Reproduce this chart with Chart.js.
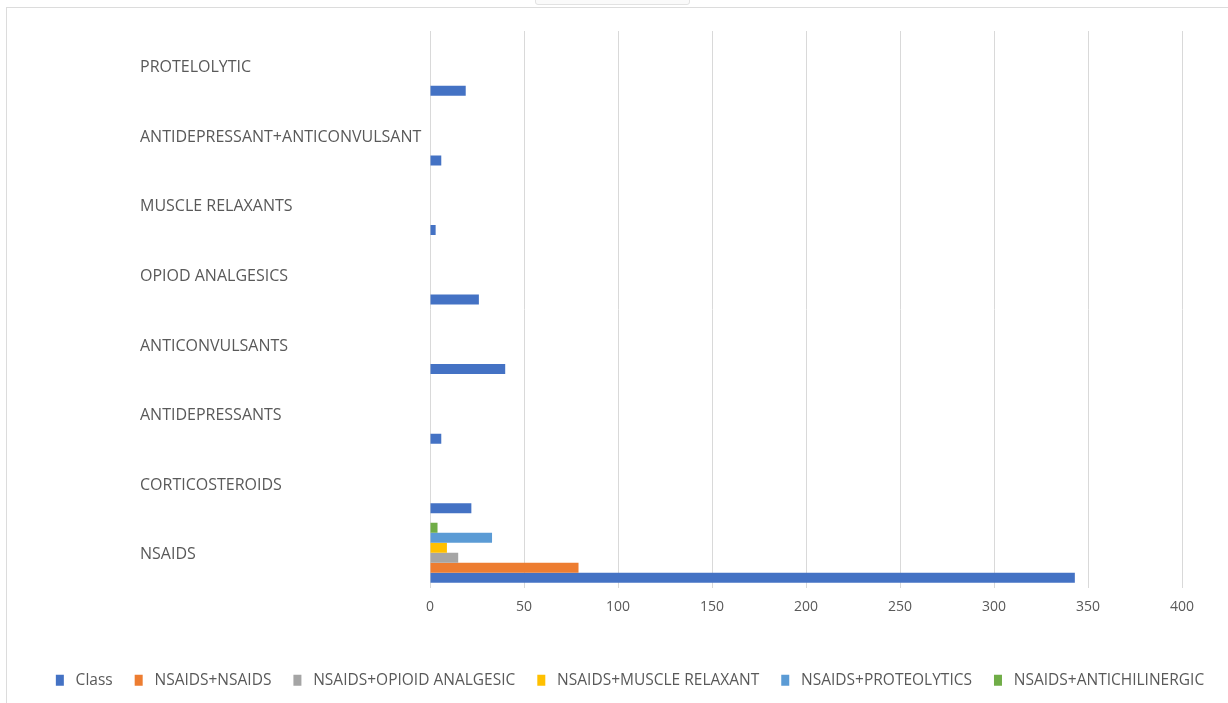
<!DOCTYPE html>
<html>
<head>
<meta charset="utf-8">
<script src="https://cdn.jsdelivr.net/npm/chart.js@4/dist/chart.umd.min.js"></script>
<style>
  html, body { margin: 0; padding: 0; background: #ffffff; }
  #frame { position: absolute; left: 6px; top: 7px; width: 1222px; height: 696px;
           border-left: 1px solid #dcdcdc; border-top: 1px solid #dcdcdc; box-sizing: border-box; }
  #wrap { position: relative; width: 1221px; height: 695px; }
  #tab { position: absolute; left: 535px; top: -3px; width: 153px; height: 6px;
         border: 1px solid #e2e2e2; border-radius: 0 0 3px 3px; background: #fafafa; }
</style>
</head>
<body>
<div id="tab"></div>
<div id="frame"><div id="wrap"><canvas id="c"></canvas></div></div>
<script>
const categories = ['NSAIDS', 'CORTICOSTEROIDS', 'ANTIDEPRESSANTS', 'ANTICONVULSANTS',
  'OPIOD ANALGESICS', 'MUSCLE RELAXANTS', 'ANTIDEPRESSANT+ANTICONVULSANT', 'PROTELOLYTIC'];
const classValues         = [343, 22, 6, 40, 26, 3, 6, 19];
const nsaidsNsaids        = [79, null, null, null, null, null, null, null];
const nsaidsOpioid        = [15, null, null, null, null, null, null, null];
const nsaidsMuscle        = [9, null, null, null, null, null, null, null];
const nsaidsProteolytics  = [33, null, null, null, null, null, null, null];
const nsaidsAntichilinerg = [4, null, null, null, null, null, null, null];
const xTicks = [0, 50, 100, 150, 200, 250, 300, 350, 400];

const seriesNames  = ['Class', 'NSAIDS+NSAIDS', 'NSAIDS+OPIOID ANALGESIC', 'NSAIDS+MUSCLE RELAXANT', 'NSAIDS+PROTEOLYTICS', 'NSAIDS+ANTICHILINERGIC'];
const seriesValues = [classValues, nsaidsNsaids, nsaidsOpioid, nsaidsMuscle, nsaidsProteolytics, nsaidsAntichilinerg];
const seriesColors = ['#4472C4', '#ED7D31', '#A5A5A5', '#FFC000', '#5B9BD5', '#70AD47'];

// Excel draws the first series at the bottom of each group: add datasets in reverse, legend reversed back.
const datasets = [];
for (let i = seriesNames.length - 1; i >= 0; i--) {
  datasets.push({ label: seriesNames[i], data: seriesValues[i], backgroundColor: seriesColors[i],
                  borderWidth: 0, categoryPercentage: 0.865, barPercentage: 1.0 });
}

const txt = '#595959';
const defaultLabels = Chart.defaults.plugins.legend.labels.generateLabels;

// category labels are left-aligned at a fixed x, well to the left of the plot
const labelLeftPlugin = {
  id: 'labelLeft',
  afterLayout(chart) { chart.scales.y.left = 133; }
};

new Chart(document.getElementById('c'), {
  type: 'bar',
  data: { labels: categories, datasets },
  plugins: [labelLeftPlugin],
  options: {
    indexAxis: 'y',
    responsive: true,
    maintainAspectRatio: false,
    animation: false,
    layout: { padding: { left: 25, top: 23, right: 0, bottom: 5 } },
    plugins: {
      tooltip: { enabled: false },
      legend: {
        position: 'bottom',
        reverse: true,
        labels: {
          font: { family: 'Open Sans', size: 15.5 }, color: txt, boxWidth: 8, boxHeight: 11, padding: 22,
          generateLabels: chart => defaultLabels(chart).map(l => Object.assign(l, { text: ' ' + l.text }))
        }
      }
    },
    scales: {
      x: {
        min: 0, max: 400,
        afterBuildTicks: s => { s.ticks = xTicks.map(v => ({ value: v })); },
        grid: { color: '#d9d9d9', lineWidth: 1, drawTicks: false },
        border: { display: false },
        ticks: { font: { family: 'Open Sans', size: 14 }, color: txt, padding: 11 },
        afterFit: s => { s.height = 63; }
      },
      y: {
        reverse: true,
        grid: { display: false, drawTicks: false },
        border: { display: false },
        ticks: { crossAlign: 'far', labelOffset: 2, font: { family: 'Open Sans', size: 16 }, color: txt },
        afterFit: s => { s.width = 398; }
      },
      yRight: {
        type: 'category',
        position: 'right',
        grid: { display: false, drawTicks: false },
        border: { display: false },
        ticks: { display: false },
        afterFit: s => { s.width = 46; }
      }
    }
  }
});
</script>
</body>
</html>
